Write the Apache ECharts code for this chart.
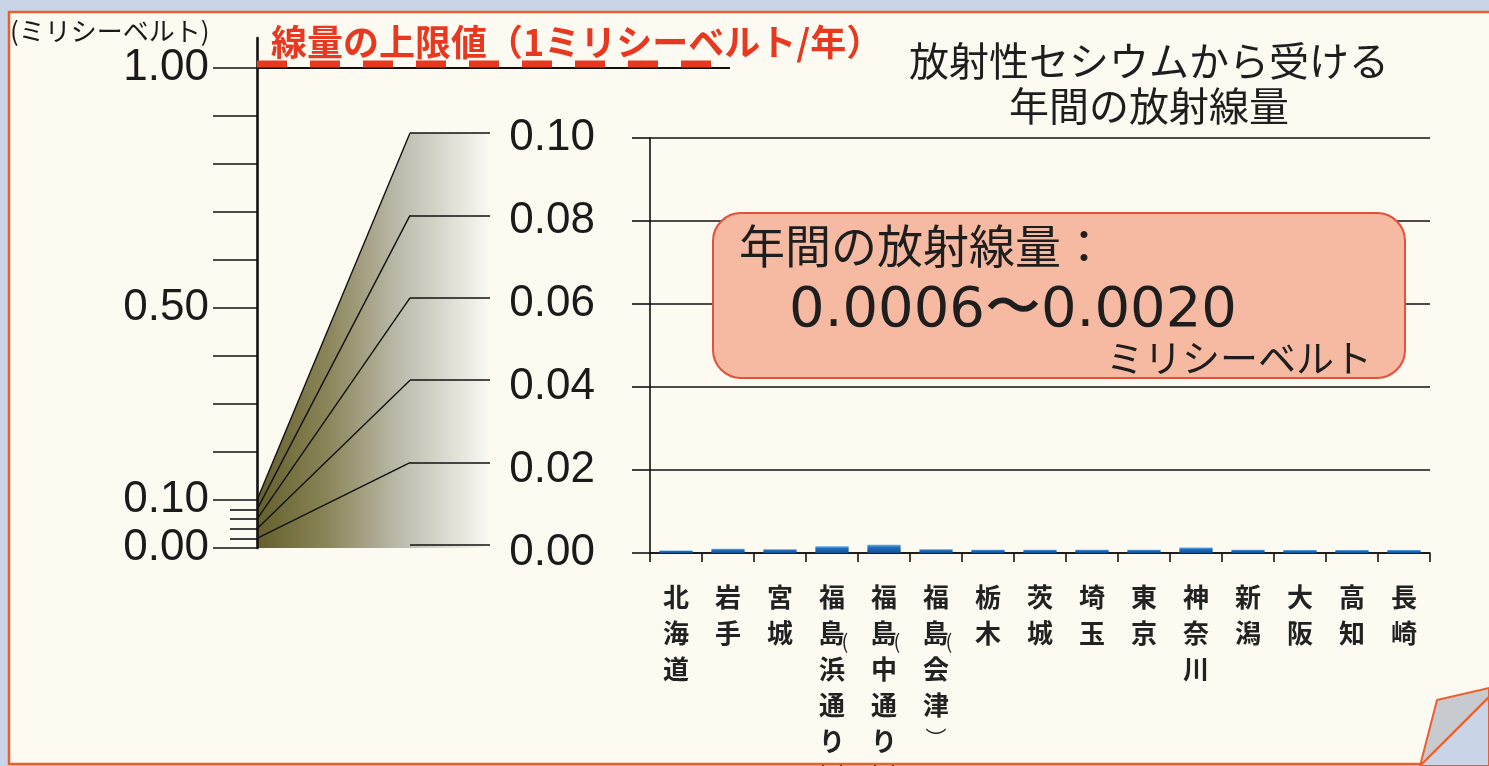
<!DOCTYPE html>
<html><head><meta charset="utf-8">
<script src="https://cdn.jsdelivr.net/npm/echarts@6/dist/echarts.min.js"></script>
<style>html,body{margin:0;padding:0;background:#c9d5e6}#c{width:1489px;height:766px}</style>
</head><body><div id="c"></div>
<script>
// ---- data ----
const categories = ['北海道','岩手','宮城','福島（浜通り）','福島（中通り）','福島（会津）','栃木','茨城','埼玉','東京','神奈川','新潟','大阪','高知','長崎'];
const doseValues = [0.0006,0.0010,0.0009,0.0016,0.0020,0.0009,0.0008,0.0008,0.0008,0.0008,0.0013,0.0008,0.0007,0.0007,0.0007];
const limitValue = 1.0;
const leftTickValues = [0,0.1,0.2,0.3,0.4,0.5,0.6,0.7,0.8,0.9,1.0];
const leftLabelValues = [0,0.1,0.5,1.0];
const leftMinorTickValues = [0.02,0.04,0.06,0.08];
const zoomValues = [0.02,0.04,0.06,0.08,0.10];
const titleLines = ['放射性セシウムから受ける','年間の放射線量'];
const limitLabel = '線量の上限値（1ミリシーベルト/年）';
const unitLabel = '(ミリシーベルト)';
const calloutLines = ['年間の放射線量：','0.0006〜0.0020','ミリシーベルト'];

const JP = '"Noto Sans CJK JP", sans-serif';
const NUM = '"Liberation Sans", Arial, sans-serif';
const chart = echarts.init(document.getElementById('c'), null, {renderer:'canvas'});

function vertLabel(name){
  const lines = [];
  for (const ch of name) {
    if (ch === '（') { if (lines.length) lines[lines.length-1] += '{po|(}'; }
    else if (ch === '）') lines.push('{pc|︶}');
    else lines.push('{c|' + ch + '}');
  }
  return lines.join('\n');
}

const hiddenX = (gi) => ({type:'value', gridIndex:gi, min:0, max:1, show:false});
const G = (o) => Object.assign({outerBoundsMode:'none', containLabel:false}, o);

chart.setOption({
  backgroundColor:'#c9d5e6',
  animation:false,
  grid:[
    G({left:257, right:759, top:38, bottom:218}),
    G({left:410, width:80, top:133, bottom:221}),
    G({left:650, right:59, top:138, bottom:213}),
    G({left:257, width:1, top:38, bottom:218})
  ],
  xAxis:[
    hiddenX(0), hiddenX(1),
    {type:'category', gridIndex:2, data:categories,
      axisLine:{lineStyle:{color:'#111', width:1.6}},
      axisTick:{show:true, length:9, lineStyle:{color:'#111', width:1.6}},
      axisLabel:{interval:0, margin:26, color:'#222',
        formatter:(v)=>vertLabel(v),
        rich:{
          c:{fontFamily:JP, fontSize:26, fontWeight:'bold', lineHeight:36, color:'#222'},
          po:{fontFamily:JP, fontSize:20, lineHeight:36, width:1, align:'left', verticalAlign:'bottom', color:'#222'},
          pc:{fontFamily:JP, fontSize:21, lineHeight:30, color:'#222'}
        }}},
    hiddenX(3)
  ],
  yAxis:[
    {type:'value', gridIndex:0, min:0, max:1.0625,
      axisLine:{show:true, lineStyle:{color:'#111', width:2.6}},
      axisTick:{show:true, customValues:leftTickValues, length:44, lineStyle:{color:'#111', width:1.6}},
      axisLabel:{customValues:leftLabelValues, formatter:(v)=>v.toFixed(2), margin:48,
        fontFamily:NUM, fontSize:44, color:'#1a1a1a'},
      splitLine:{show:false}},
    {type:'value', gridIndex:1, min:0, max:0.1, interval:0.02,
      axisLine:{show:false}, axisTick:{show:false}, axisLabel:{show:false},
      splitLine:{show:true, lineStyle:{color:'#111', width:1.6}}},
    {type:'value', gridIndex:2, min:0, max:0.1, interval:0.02,
      axisLine:{show:true, lineStyle:{color:'#111', width:1.6}},
      axisTick:{show:true, length:18, lineStyle:{color:'#111', width:1.6}},
      axisLabel:{formatter:(v)=>v.toFixed(2), margin:55, fontFamily:NUM, fontSize:44, color:'#1a1a1a'},
      splitLine:{show:true, lineStyle:{color:'#111', width:1.6}}},
    {type:'value', gridIndex:3, min:0, max:1.0625,
      axisLine:{show:false},
      axisTick:{show:true, customValues:leftMinorTickValues, length:27, lineStyle:{color:'#111', width:1.6}},
      axisLabel:{show:false}, splitLine:{show:false}}
  ],
  series:[
    {type:'line', xAxisIndex:0, yAxisIndex:0, data:[[0,limitValue],[1,limitValue]],
      symbol:'none', lineStyle:{color:'#111', width:1.8}, z:3},
    {type:'bar', xAxisIndex:2, yAxisIndex:2, data:doseValues, barWidth:'64%',
      itemStyle:{color:new echarts.graphic.LinearGradient(0,0,0,1,[
        {offset:0,color:'#5fb2ee'},{offset:0.35,color:'#1f6cb8'},{offset:1,color:'#154f93'}])}}
  ]
});

// ---- derived decorations (positions from the library's scales) ----
const yL = v => chart.convertToPixel({yAxisIndex:0}, v);
const yM = v => chart.convertToPixel({yAxisIndex:1}, v);
const xL = chart.convertToPixel({xAxisIndex:0}, 0);
const xM0 = chart.convertToPixel({xAxisIndex:1}, 0);
const xM1 = chart.convertToPixel({xAxisIndex:1}, 1);
const topZoom = zoomValues[zoomValues.length-1];

const els = [];
els.push({type:'rect', z:-20, shape:{x:9, y:12, width:1500, height:752},
  style:{fill:'#fdfaf2', stroke:'#ec5f2c', lineWidth:2.5}});
els.push({type:'polygon', z:-5, shape:{points:[
  [xL, yL(0)], [xL, yL(topZoom)], [xM0, yM(topZoom)], [xM1, yM(topZoom)], [xM1, yL(0)]]},
  style:{fill:new echarts.graphic.LinearGradient(0,0,1,0,[
    {offset:0,color:'#655f2c'},{offset:0.3,color:'#8a8558'},{offset:0.62,color:'#bebcae'},{offset:1,color:'#faf9f3'}])}});
zoomValues.forEach(v=>{
  els.push({type:'line', z:5, shape:{x1:xL, y1:yL(v), x2:xM0, y2:yM(v)},
    style:{stroke:'#111', lineWidth:1.4}});
});
els.push({type:'line', z:6, shape:{x1:xL, y1:yL(limitValue)-4, x2:xL+458, y2:yL(limitValue)-4},
  style:{stroke:'#e8381f', lineWidth:7, lineDash:[30,23]}});
els.push({type:'text', z:10, style:{text:unitLabel, x:10, y:31, fontFamily:JP, fontSize:26, fill:'#1a1a1a', verticalAlign:'middle'}});
els.push({type:'text', z:10, style:{text:limitLabel, x:271, y:42, fontFamily:JP, fontSize:36, fontWeight:'bold', fill:'#e8381f', verticalAlign:'middle'}});
els.push({type:'text', z:10, style:{text:titleLines.join('\n'), x:1149, y:83, fontFamily:JP, fontSize:40, lineHeight:45, fill:'#1e1e1e', align:'center', verticalAlign:'middle'}});
els.push({type:'rect', z:8, shape:{x:713, y:213, width:692, height:165, r:28},
  style:{fill:'#f6b9a1', stroke:'#e5503a', lineWidth:2}});
els.push({type:'text', z:10, style:{text:calloutLines[0], x:739, y:246, fontFamily:JP, fontSize:46, fill:'#1e1e1e', verticalAlign:'middle'}});
els.push({type:'text', z:10, style:{text:calloutLines[1], x:789, y:311, fontFamily:'"DejaVu Sans", sans-serif', fontSize:56, fill:'#1e1e1e', verticalAlign:'middle'}});
els.push({type:'text', z:10, style:{text:calloutLines[2], x:1372, y:358, fontFamily:JP, fontSize:38, fill:'#1e1e1e', align:'right', verticalAlign:'middle'}});
els.push({type:'polygon', z:9, shape:{points:[[1437,700],[1489,688],[1489,697],[1420,766]]},
  style:{fill:'#c7cacf', stroke:'#ec5f2c', lineWidth:2}});
els.push({type:'polygon', z:9, shape:{points:[[1489,697],[1489,766],[1420,766]]},
  style:{fill:'#c9d5e6', stroke:'#ec5f2c', lineWidth:2}});

chart.setOption({graphic:{elements:els}});
</script></body></html>
